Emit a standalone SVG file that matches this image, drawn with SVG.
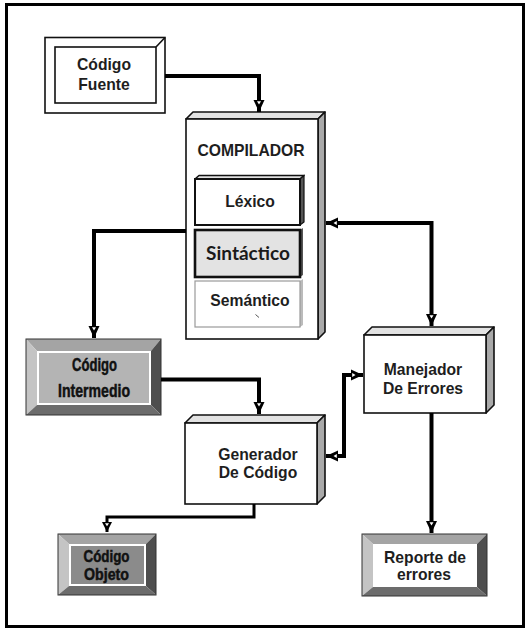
<svg xmlns="http://www.w3.org/2000/svg" width="528" height="629" viewBox="0 0 528 629">
<defs>
<style>
.t{font-family:"Liberation Sans",Arial,sans-serif;font-weight:bold;font-size:15.7px;fill:#1e1e1e;text-anchor:middle}
.c{font-family:"Liberation Sans",Arial,sans-serif;font-weight:bold;font-size:18px;fill:#111;stroke:#111;stroke-width:0.5;text-anchor:middle}
.c2{font-size:16px}
.g{font-family:Lato,"Open Sans",sans-serif;font-weight:bold;font-size:19px;fill:#1a1a1a;text-anchor:middle}
.front{fill:#fff;stroke:#111;stroke-width:1.6}
.top{fill:#e2e2e2;stroke:#111;stroke-width:1.6;stroke-linejoin:round}
.side{fill:#a9a9a9;stroke:#111;stroke-width:1.6;stroke-linejoin:round}
.conn{fill:none;stroke:#000;stroke-width:4;stroke-linejoin:miter}
.thin{stroke-width:3}
.bt{fill:#a4a4a4}.bl{fill:#c4c4c4}.br{fill:#4e4e4e}.bb{fill:#6c6c6c}
.bo{fill:none;stroke:#333;stroke-width:1}
</style>
<marker id="ah" markerUnits="userSpaceOnUse" markerWidth="20" markerHeight="20" refX="12" refY="0" orient="auto-start-reverse" overflow="visible">
<path d="M0,-5.5 L12,0 L0,5.5 Z" fill="#000"/>
<path d="M1.2,-2 L4.5,0 L1.2,2 Z" fill="#fff"/>
</marker>
<marker id="ahs" markerUnits="userSpaceOnUse" markerWidth="20" markerHeight="20" refX="10" refY="0" orient="auto" overflow="visible">
<path d="M0,-5 L10,0 L0,5 Z" fill="#000"/>
<path d="M1.2,-2 L4.2,0 L1.2,2 Z" fill="#fff"/>
</marker>
</defs>
<rect x="0" y="0" width="528" height="629" fill="#fff"/>
<rect id="frame" x="6.5" y="4.5" width="517" height="622" fill="none" stroke="#000" stroke-width="3"/>

<g id="codigo-fuente">
<rect x="45" y="37.5" width="120" height="75.5" fill="#fff" stroke="#111" stroke-width="1.6"/>
<rect x="55" y="47" width="101" height="56" fill="#fff" stroke="#111" stroke-width="1.6"/>
<line x1="156" y1="47" x2="165" y2="37.5" stroke="#111" stroke-width="1.6"/>
<text class="t" x="104" y="70">Código</text>
<text class="t" x="104" y="90">Fuente</text>
</g>

<g id="compilador">
<polygon class="top" points="186,119 193,112 325,112 318,119"/>
<polygon class="side" points="318,119 325,112 325,332 318,339"/>
<rect class="front" x="186" y="119" width="132" height="220"/>
<text class="t" x="251" y="156">COMPILADOR</text>
</g>

<g id="lexico">
<polygon class="top" points="195,179 199,175.5 304,175.5 300,179"/>
<polygon fill="#555" stroke="#111" stroke-width="1.2" points="300,179 304,175.5 304,222 300,225"/>
<rect x="195" y="179" width="105" height="46" fill="#fff" stroke="#111" stroke-width="2"/>
<text class="t" x="250" y="207">Léxico</text>
</g>

<g id="sintactico">
<polygon fill="#555" points="300,230 303,228 303,275 300,277"/>
<rect x="195" y="230" width="105" height="47" fill="#e3e3e3" stroke="#111" stroke-width="2.6"/>
<text class="g" x="248" y="260">Sintáctico</text>
</g>

<g id="semantico">
<polygon fill="#bbb" points="300,281 303,279 303,325 300,327"/>
<rect x="195" y="281" width="105" height="46" fill="#fff" stroke="#9a9a9a" stroke-width="1.2"/>
<text class="t" x="250" y="306">Semántico</text>
<line x1="255.5" y1="314.5" x2="259" y2="317.5" stroke="#555" stroke-width="1"/>
</g>

<g id="codigo-intermedio">
<polygon class="bt" points="26,339 161,339 151,351 37,351"/>
<polygon class="bl" points="26,339 37,351 37,405 26,415"/>
<polygon class="br" points="161,339 161,415 151,405 151,351"/>
<polygon class="bb" points="26,415 37,405 151,405 161,415"/>
<rect class="bo" x="26" y="339" width="135" height="76"/>
<rect x="38" y="352" width="112" height="52" fill="#b4b4b4" stroke="#fff" stroke-width="2"/>
<text class="c" x="94.5" y="371" textLength="45" lengthAdjust="spacingAndGlyphs">Código</text>
<text class="c" x="94" y="397" textLength="72" lengthAdjust="spacingAndGlyphs">Intermedio</text>
</g>

<g id="manejador">
<polygon class="top" points="364,335 372,327 494,327 486,335"/>
<polygon class="side" points="486,335 494,327 494,405 486,413"/>
<rect class="front" x="364" y="335" width="122" height="78"/>
<text class="t" x="423" y="375">Manejador</text>
<text class="t" x="423" y="394">De Errores</text>
</g>

<g id="generador">
<polygon class="top" points="185,423 193,415 325,415 317,423"/>
<polygon class="side" points="317,423 325,415 325,496 317,504"/>
<rect class="front" x="185" y="423" width="132" height="81"/>
<text class="t" x="258" y="460">Generador</text>
<text class="t" x="258" y="478">De Código</text>
</g>

<g id="codigo-objeto">
<polygon class="bt" points="58,534 156,534 146,544 69,544"/>
<polygon class="bl" points="58,534 69,544 69,586 58,595"/>
<polygon class="br" points="156,534 156,595 146,586 146,544"/>
<polygon class="bb" points="58,595 69,586 146,586 156,595"/>
<rect class="bo" x="58" y="534" width="98" height="61"/>
<rect x="70" y="545" width="75" height="40" fill="#8b8b8b" stroke="#fff" stroke-width="2"/>
<text class="c c2" x="106.5" y="562" textLength="46" lengthAdjust="spacingAndGlyphs">Código</text>
<text class="c c2" x="106.5" y="580" textLength="45" lengthAdjust="spacingAndGlyphs">Objeto</text>
</g>

<g id="reporte">
<polygon class="bt" points="362,534 487,534 477,544 373,544"/>
<polygon class="bl" points="362,534 373,544 373,587 362,596"/>
<polygon class="br" points="487,534 487,596 477,587 477,544"/>
<polygon class="bb" points="362,596 373,587 477,587 487,596"/>
<rect class="bo" x="362" y="534" width="125" height="62"/>
<rect x="374" y="545" width="102" height="41" fill="#fff" stroke="#fff" stroke-width="2"/>
<text class="t" x="425" y="563">Reporte de</text>
<text class="t" x="424" y="580">errores</text>
</g>

<g id="connectors">
<path class="conn" d="M165,76 H259 V112" marker-end="url(#ah)"/>
<path class="conn" d="M186,231 H94 V338" marker-end="url(#ah)"/>
<path class="conn" d="M326,223 H431.5 V326" marker-start="url(#ah)" marker-end="url(#ah)"/>
<path class="conn" d="M161,379.5 H259 V414" marker-end="url(#ah)"/>
<path class="conn" d="M363,375 H344 V456 H326" marker-start="url(#ah)" marker-end="url(#ah)"/>
<path class="conn thin" d="M254,504 V517 H107 V532" marker-end="url(#ahs)"/>
<path class="conn" d="M431.5,413 V533" marker-end="url(#ah)"/>
</g>
</svg>
